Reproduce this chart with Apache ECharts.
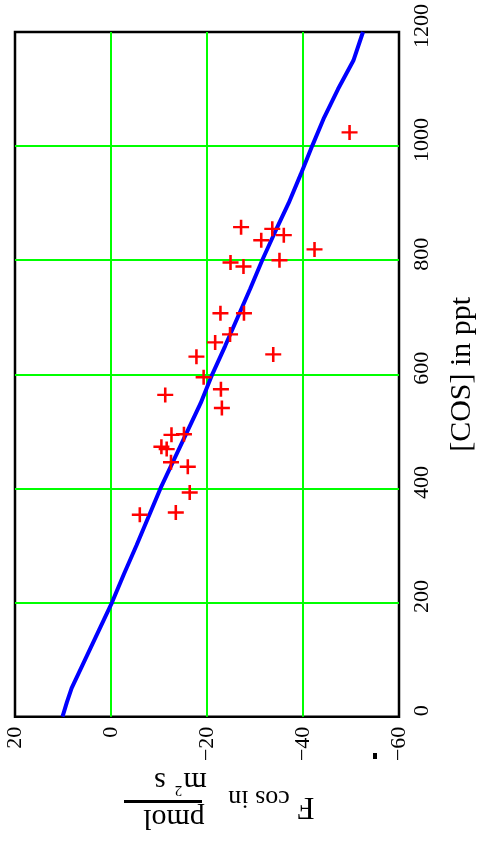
<!DOCTYPE html>
<html>
<head>
<meta charset="utf-8">
<style>
  html, body { margin: 0; padding: 0; background: #fff; }
  #chart { width: 477px; height: 843px; }
</style>
<script src="https://cdn.jsdelivr.net/npm/echarts@6/dist/echarts.min.js"></script>
</head>
<body>
<div id="chart"></div>
<script>
// Model curve: COS mixing ratio (ppt) and the corresponding flux
const cosLine = [0, 25, 50, 100, 150, 200, 250, 300, 350, 400, 450, 500, 550, 600,
                 650, 700, 750, 800, 850, 900, 950, 1000, 1050, 1100, 1150, 1200];
const fcosLine = [10.1, 9.2, 8.2, 5.4, 2.6, -0.2, -2.7, -5.3, -7.8, -10.3, -13.1, -15.9, -18.7, -21.1,
                  -23.8, -26.4, -29.0, -31.5, -34.2, -37.0, -39.5, -41.9, -44.4, -47.3, -50.5, -52.5];

// Measured points
const cosObs = [1024, 858, 855, 844, 835, 819, 796, 789, 800, 707, 707, 670, 656, 631,
                635, 595, 564, 574, 541, 494, 495, 473, 469, 446, 438, 393, 354, 358];
const fcosObs = [-49.7, -27.1, -33.6, -36.0, -31.3, -42.4, -24.9, -27.6, -35.1, -22.8, -27.7, -24.8, -21.7, -17.8,
                 -33.8, -19.3, -11.3, -22.9, -23.1, -12.6, -15.2, -10.5, -11.6, -12.5, -16.0, -16.4, -6.0, -13.5];

// Axis ranges and ticks
const fluxTicks = [20, 0, -20, -40, -60];
const cosTicks = [0, 200, 400, 600, 800, 1000, 1200];

const serif = "'Liberation Serif', 'DejaVu Serif', serif";
const minus = v => String(v).replace('-', '\u2212');

const chart = echarts.init(document.getElementById('chart'), null, { renderer: 'canvas' });

const crossPath = 'path://M4.2,0H5.8V4.2H10V5.8H5.8V10H4.2V5.8H0V4.2H4.2Z';

chart.setOption({
  animation: false,
  backgroundColor: '#ffffff',
  grid: {
    left: 15, right: 78, top: 32, bottom: 126.3,
    outerBoundsMode: 'none',
    containLabel: false,
    show: true, borderColor: '#000', borderWidth: 2.5, backgroundColor: 'transparent'
  },
  xAxis: {
    type: 'value',
    inverse: true,
    min: fluxTicks[fluxTicks.length - 1],
    max: fluxTicks[0],
    interval: 20,
    position: 'bottom',
    axisLine: { show: false },
    axisTick: { show: false },
    axisLabel: {
      rotate: 90, margin: 10, fontSize: 22, fontFamily: serif, color: '#000',
      padding: [6, 0, 0, 0],
      formatter: minus
    },
    splitLine: { show: true, showMinLine: false, showMaxLine: false,
                 lineStyle: { color: '#00ff00', width: 2 } }
  },
  yAxis: {
    type: 'value',
    min: cosTicks[0],
    max: cosTicks[cosTicks.length - 1],
    interval: 200,
    position: 'right',
    axisLine: { show: false },
    axisTick: { show: false },
    axisLabel: { rotate: 90, margin: 12, fontSize: 22, fontFamily: serif, color: '#000',
                 padding: [0, 0, 0, 12],
                 formatter: v => String(v) },
    splitLine: { show: true, showMinLine: false, showMaxLine: false,
                 lineStyle: { color: '#00ff00', width: 2 } },
    name: '[COS] in ppt',
    nameLocation: 'middle',
    nameRotate: 90,
    nameGap: 48,
    nameTextStyle: { fontSize: 30, fontFamily: serif, color: '#000' }
  },
  series: [
    {
      type: 'line',
      data: cosLine.map((c, i) => [fcosLine[i], c]),
      showSymbol: false,
      lineStyle: { color: '#0000ff', width: 4 },
      z: 3
    },
    {
      type: 'scatter',
      data: cosObs.map((c, i) => [fcosObs[i], c]),
      symbol: crossPath,
      symbolSize: [16, 15],
      itemStyle: { color: '#ff0000', opacity: 1 },
      z: 4
    }
  ],
  graphic: [
    // flux axis title, drawn upside down
    { type: 'text', x: 306, y: 806, rotation: Math.PI,
      style: { text: 'F', font: '31px ' + serif, fill: '#000', align: 'center', verticalAlign: 'middle' } },
    { type: 'text', x: 259, y: 798, rotation: Math.PI,
      style: { text: 'cos in', font: '26px ' + serif, fill: '#000', align: 'center', verticalAlign: 'middle' } },
    { type: 'text', x: 174, y: 818, rotation: Math.PI,
      style: { text: 'pmol', font: '30px ' + serif, fill: '#000', align: 'center', verticalAlign: 'middle' } },
    { type: 'line', shape: { x1: 124, y1: 801.5, x2: 202, y2: 801.5 },
      style: { stroke: '#000', lineWidth: 3 } },
    { type: 'text', x: 195, y: 781, rotation: Math.PI,
      style: { text: 'm', font: '30px ' + serif, fill: '#000', align: 'center', verticalAlign: 'middle' } },
    { type: 'text', x: 178.5, y: 790, rotation: Math.PI,
      style: { text: '2', font: '15px ' + serif, fill: '#000', align: 'center', verticalAlign: 'middle' } },
    { type: 'text', x: 160, y: 781, rotation: Math.PI,
      style: { text: 's', font: '30px ' + serif, fill: '#000', align: 'center', verticalAlign: 'middle' } },
    { type: 'rect', shape: { x: 373, y: 753, width: 4, height: 6 }, style: { fill: '#000' } }
  ]
});
</script>
</body>
</html>
